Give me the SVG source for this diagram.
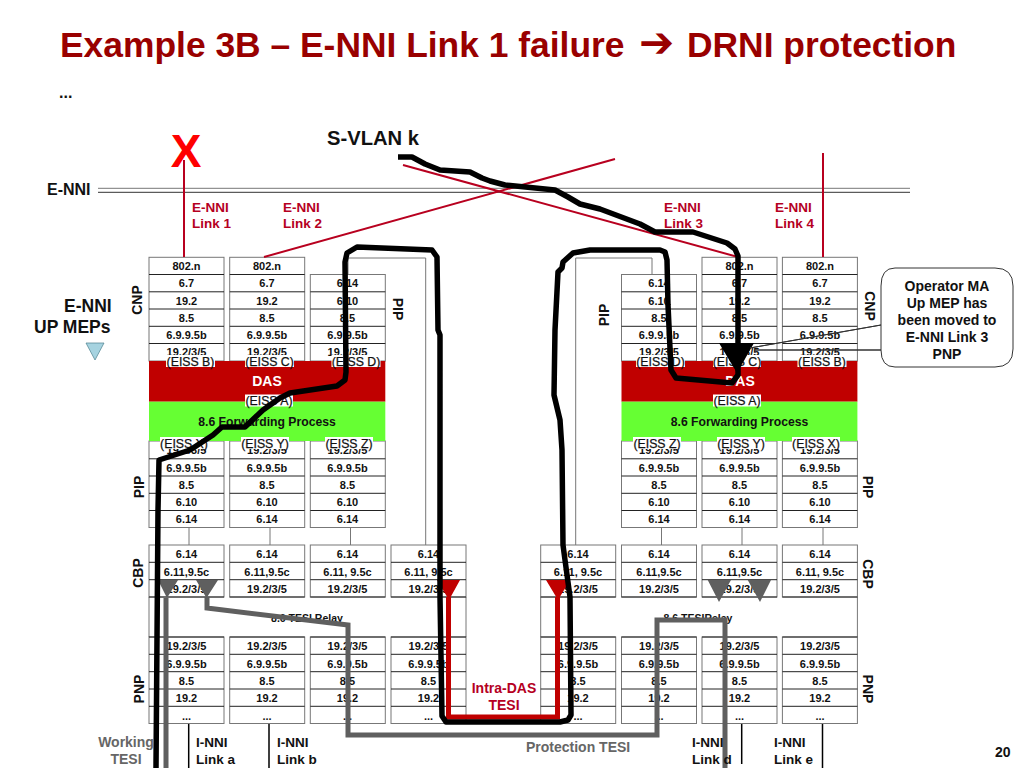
<svg xmlns="http://www.w3.org/2000/svg" width="1024" height="768" viewBox="0 0 1024 768">
<style>
text{font-family:"Liberation Sans",Arial,sans-serif;font-weight:bold}
.t{font-size:11px;text-anchor:middle;fill:#111}
.box{fill:#fff;stroke:#777;stroke-width:1}
.rl{fill:none;stroke:#222;stroke-width:1}
.e{font-size:12.3px;font-weight:normal;text-anchor:middle;fill:#111;stroke:#111;stroke-width:0.25}
.w{fill:#fff}
.s{font-size:14px;text-anchor:middle;fill:#111}
.n{font-size:13.5px;fill:#111}
.r{font-size:13.5px;fill:#b5001f}
.g{font-size:14px;fill:#666}
.rd{fill:none;stroke:#b8001f;stroke-width:2}
.thin{fill:none;stroke:#777;stroke-width:1}
.bk{fill:none;stroke:#000;stroke-width:5.5;stroke-linejoin:round;stroke-linecap:butt}
.gy{fill:none;stroke:#5f5f5f;stroke-width:5;stroke-linejoin:miter}
.il{fill:none;stroke:#000;stroke-width:1.5}
</style>
<rect width="1024" height="768" fill="#fff"/>
<g id="title">
<text x="60" y="57" style="font-size:35.4px;fill:#990000">Example 3B – E-NNI Link 1 failure<tspan x="639" style="font-family:'DejaVu Sans',sans-serif;font-size:42px">➔</tspan><tspan x="687">DRNI protection</tspan></text>
<text x="59" y="98" style="font-size:16px;fill:#111">...</text>
</g>
<g id="enni-bus"><path d="M98 188.3H910" fill="none" stroke="#777" stroke-width="1"/><path d="M98 192.3H910" fill="none" stroke="#333" stroke-width="1"/></g>

<g id="thin-links">
<path class="thin" d="M348 274V258H425.7V545"/>
<path class="thin" d="M652 274V258H575.7V545"/>
<path class="thin" d="M189 527.5V545M270 527.5V545M350.5 527.5V545M661.5 527.5V545M742 527.5V545M823 527.5V545"/>
</g>

<g id="left-cnp-1"><rect class="box" x="149" y="257.3" width="75" height="103.7"/><path class="rl" d="M149 274.5H224M149 291.8H224M149 309H224M149 326.3H224M149 343.5H224"/>
<text class="t" x="186.5" y="270">802.n</text><text class="t" x="186.5" y="287">6.7</text><text class="t" x="186.5" y="304.5">19.2</text><text class="t" x="186.5" y="322">8.5</text><text class="t" x="186.5" y="339">6.9.9.5b</text><text class="t" x="186.5" y="356">19.2/3/5</text></g>
<g id="left-cnp-2"><rect class="box" x="229.7" y="257.3" width="75" height="103.7"/><path class="rl" d="M229.7 274.5H304.7M229.7 291.8H304.7M229.7 309H304.7M229.7 326.3H304.7M229.7 343.5H304.7"/>
<text class="t" x="267" y="270">802.n</text><text class="t" x="267" y="287">6.7</text><text class="t" x="267" y="304.5">19.2</text><text class="t" x="267" y="322">8.5</text><text class="t" x="267" y="339">6.9.9.5b</text><text class="t" x="267" y="356">19.2/3/5</text></g>
<g id="left-cnp-3"><rect class="box" x="310.3" y="274.5" width="75" height="86.5"/><path class="rl" d="M310.3 291.8H385.3M310.3 309H385.3M310.3 326.3H385.3M310.3 343.5H385.3"/>
<text class="t" x="347.5" y="287">6.14</text><text class="t" x="347.5" y="304.5">6.10</text><text class="t" x="347.5" y="322">8.5</text><text class="t" x="347.5" y="339">6.9.9.5b</text><text class="t" x="347.5" y="356">19.2/3/5</text></g>

<g id="right-cnp-1"><rect class="box" x="621.5" y="274.5" width="75" height="86.5"/><path class="rl" d="M621.5 291.8H696.5M621.5 309H696.5M621.5 326.3H696.5M621.5 343.5H696.5"/>
<text class="t" x="659" y="287">6.14</text><text class="t" x="659" y="304.5">6.10</text><text class="t" x="659" y="322">8.5</text><text class="t" x="659" y="339">6.9.9.5b</text><text class="t" x="659" y="356">19.2/3/5</text></g>
<g id="right-cnp-2"><rect class="box" x="702" y="257.3" width="75" height="103.7"/><path class="rl" d="M702 274.5H777M702 291.8H777M702 309H777M702 326.3H777M702 343.5H777"/>
<text class="t" x="739.5" y="270">802.n</text><text class="t" x="739.5" y="287">6.7</text><text class="t" x="739.5" y="304.5">19.2</text><text class="t" x="739.5" y="322">8.5</text><text class="t" x="739.5" y="339">6.9.9.5b</text><text class="t" x="739.5" y="356">19.2/3/5</text></g>
<g id="right-cnp-3"><rect class="box" x="782.4" y="257.3" width="75" height="103.7"/><path class="rl" d="M782.4 274.5H857.4M782.4 291.8H857.4M782.4 309H857.4M782.4 326.3H857.4M782.4 343.5H857.4"/>
<text class="t" x="820" y="270">802.n</text><text class="t" x="820" y="287">6.7</text><text class="t" x="820" y="304.5">19.2</text><text class="t" x="820" y="322">8.5</text><text class="t" x="820" y="339">6.9.9.5b</text><text class="t" x="820" y="356">19.2/3/5</text></g>

<g id="left-pip-1"><rect class="box" x="149" y="441" width="75" height="86.5"/><path class="rl" d="M149 458.8H224M149 476H224M149 493.3H224M149 510.5H224"/>
<text class="t" x="186.5" y="454">19.2/3/5</text><text class="t" x="186.5" y="471.5">6.9.9.5b</text><text class="t" x="186.5" y="489">8.5</text><text class="t" x="186.5" y="506">6.10</text><text class="t" x="186.5" y="523">6.14</text></g>
<g id="left-pip-2"><rect class="box" x="229.7" y="441" width="75" height="86.5"/><path class="rl" d="M229.7 458.8H304.7M229.7 476H304.7M229.7 493.3H304.7M229.7 510.5H304.7"/>
<text class="t" x="267" y="454">19.2/3/5</text><text class="t" x="267" y="471.5">6.9.9.5b</text><text class="t" x="267" y="489">8.5</text><text class="t" x="267" y="506">6.10</text><text class="t" x="267" y="523">6.14</text></g>
<g id="left-pip-3"><rect class="box" x="310.3" y="441" width="75" height="86.5"/><path class="rl" d="M310.3 458.8H385.3M310.3 476H385.3M310.3 493.3H385.3M310.3 510.5H385.3"/>
<text class="t" x="347.5" y="454">19.2/3/5</text><text class="t" x="347.5" y="471.5">6.9.9.5b</text><text class="t" x="347.5" y="489">8.5</text><text class="t" x="347.5" y="506">6.10</text><text class="t" x="347.5" y="523">6.14</text></g>
<g id="right-pip-1"><rect class="box" x="621.5" y="441" width="75" height="86.5"/><path class="rl" d="M621.5 458.8H696.5M621.5 476H696.5M621.5 493.3H696.5M621.5 510.5H696.5"/>
<text class="t" x="659" y="454">19.2/3/5</text><text class="t" x="659" y="471.5">6.9.9.5b</text><text class="t" x="659" y="489">8.5</text><text class="t" x="659" y="506">6.10</text><text class="t" x="659" y="523">6.14</text></g>
<g id="right-pip-2"><rect class="box" x="702" y="441" width="75" height="86.5"/><path class="rl" d="M702 458.8H777M702 476H777M702 493.3H777M702 510.5H777"/>
<text class="t" x="739.5" y="454">19.2/3/5</text><text class="t" x="739.5" y="471.5">6.9.9.5b</text><text class="t" x="739.5" y="489">8.5</text><text class="t" x="739.5" y="506">6.10</text><text class="t" x="739.5" y="523">6.14</text></g>
<g id="right-pip-3"><rect class="box" x="782.4" y="441" width="75" height="86.5"/><path class="rl" d="M782.4 458.8H857.4M782.4 476H857.4M782.4 493.3H857.4M782.4 510.5H857.4"/>
<text class="t" x="820" y="454">19.2/3/5</text><text class="t" x="820" y="471.5">6.9.9.5b</text><text class="t" x="820" y="489">8.5</text><text class="t" x="820" y="506">6.10</text><text class="t" x="820" y="523">6.14</text></g>

<g id="left-relay"><path class="box" d="M149 597V637M466 597V637"/><text class="t" x="307" y="621.5" style="font-size:10.5px">8.6 TESI Relay</text></g>
<g id="right-relay"><path class="box" d="M540.7 597V637M857.4 597V637"/><text class="t" x="698" y="621.5" style="font-size:10.5px">8.6 TESIRelay</text></g>

<g id="left-cbp-1"><rect class="box" x="149" y="545" width="75" height="52"/><path class="rl" d="M149 562.3H224M149 579.7H224M149 597H224"/><text class="t" x="186.5" y="558">6.14</text><text class="t" x="186.5" y="575.5">6.11,9.5c</text><text class="t" x="186.5" y="593">19.2/3/5</text></g>
<g id="left-cbp-2"><rect class="box" x="229.7" y="545" width="75" height="52"/><path class="rl" d="M229.7 562.3H304.7M229.7 579.7H304.7M229.7 597H304.7"/><text class="t" x="267" y="558">6.14</text><text class="t" x="267" y="575.5">6.11,9.5c</text><text class="t" x="267" y="593">19.2/3/5</text></g>
<g id="left-cbp-3"><rect class="box" x="310.3" y="545" width="75" height="52"/><path class="rl" d="M310.3 562.3H385.3M310.3 579.7H385.3M310.3 597H385.3"/><text class="t" x="347.5" y="558">6.14</text><text class="t" x="347.5" y="575.5">6.11, 9.5c</text><text class="t" x="347.5" y="593">19.2/3/5</text></g>
<g id="left-cbp-4"><rect class="box" x="391" y="545" width="75" height="52"/><path class="rl" d="M391 562.3H466M391 579.7H466M391 597H466"/><text class="t" x="428.5" y="558">6.14</text><text class="t" x="428.5" y="575.5">6.11, 9.5c</text><text class="t" x="428.5" y="593">19.2/3/5</text></g>
<g id="right-cbp-1"><rect class="box" x="540.7" y="545" width="75" height="52"/><path class="rl" d="M540.7 562.3H615.7M540.7 579.7H615.7M540.7 597H615.7"/><text class="t" x="578" y="558">6.14</text><text class="t" x="578" y="575.5">6.11, 9.5c</text><text class="t" x="578" y="593">19.2/3/5</text></g>
<g id="right-cbp-2"><rect class="box" x="621.5" y="545" width="75" height="52"/><path class="rl" d="M621.5 562.3H696.5M621.5 579.7H696.5M621.5 597H696.5"/><text class="t" x="659" y="558">6.14</text><text class="t" x="659" y="575.5">6.11,9.5c</text><text class="t" x="659" y="593">19.2/3/5</text></g>
<g id="right-cbp-3"><rect class="box" x="702" y="545" width="75" height="52"/><path class="rl" d="M702 562.3H777M702 579.7H777M702 597H777"/><text class="t" x="739.5" y="558">6.14</text><text class="t" x="739.5" y="575.5">6.11,9.5c</text><text class="t" x="739.5" y="593">19.2/3/5</text></g>
<g id="right-cbp-4"><rect class="box" x="782.4" y="545" width="75" height="52"/><path class="rl" d="M782.4 562.3H857.4M782.4 579.7H857.4M782.4 597H857.4"/><text class="t" x="820" y="558">6.14</text><text class="t" x="820" y="575.5">6.11, 9.5c</text><text class="t" x="820" y="593">19.2/3/5</text></g>

<g id="left-pnp-1"><rect class="box" x="149" y="637" width="75" height="86.5"/><path class="rl" d="M149 637H224M149 654.3H224M149 671.7H224M149 689H224M149 706.3H224"/><text class="t" x="186.5" y="650">19.2/3/5</text><text class="t" x="186.5" y="667.5">6.9.9.5b</text><text class="t" x="186.5" y="685">8.5</text><text class="t" x="186.5" y="702">19.2</text><text class="t" x="186.5" y="720">...</text></g>
<g id="left-pnp-2"><rect class="box" x="229.7" y="637" width="75" height="86.5"/><path class="rl" d="M229.7 637H304.7M229.7 654.3H304.7M229.7 671.7H304.7M229.7 689H304.7M229.7 706.3H304.7"/><text class="t" x="267" y="650">19.2/3/5</text><text class="t" x="267" y="667.5">6.9.9.5b</text><text class="t" x="267" y="685">8.5</text><text class="t" x="267" y="702">19.2</text><text class="t" x="267" y="720">...</text></g>
<g id="left-pnp-3"><rect class="box" x="310.3" y="637" width="75" height="86.5"/><path class="rl" d="M310.3 637H385.3M310.3 654.3H385.3M310.3 671.7H385.3M310.3 689H385.3M310.3 706.3H385.3"/><text class="t" x="347.5" y="650">19.2/3/5</text><text class="t" x="347.5" y="667.5">6.9.9.5b</text><text class="t" x="347.5" y="685">8.5</text><text class="t" x="347.5" y="702">19.2</text><text class="t" x="347.5" y="720">...</text></g>
<g id="left-pnp-4"><rect class="box" x="391" y="637" width="75" height="86.5"/><path class="rl" d="M391 637H466M391 654.3H466M391 671.7H466M391 689H466M391 706.3H466"/><text class="t" x="428.5" y="650">19.2/3/5</text><text class="t" x="428.5" y="667.5">6.9.9.5b</text><text class="t" x="428.5" y="685">8.5</text><text class="t" x="428.5" y="702">19.2</text><text class="t" x="428.5" y="720">...</text></g>
<g id="right-pnp-1"><rect class="box" x="540.7" y="637" width="75" height="86.5"/><path class="rl" d="M540.7 637H615.7M540.7 654.3H615.7M540.7 671.7H615.7M540.7 689H615.7M540.7 706.3H615.7"/><text class="t" x="578" y="650">19.2/3/5</text><text class="t" x="578" y="667.5">6.9.9.5b</text><text class="t" x="578" y="685">8.5</text><text class="t" x="578" y="702">19.2</text><text class="t" x="578" y="720">...</text></g>
<g id="right-pnp-2"><rect class="box" x="621.5" y="637" width="75" height="86.5"/><path class="rl" d="M621.5 637H696.5M621.5 654.3H696.5M621.5 671.7H696.5M621.5 689H696.5M621.5 706.3H696.5"/><text class="t" x="659" y="650">19.2/3/5</text><text class="t" x="659" y="667.5">6.9.9.5b</text><text class="t" x="659" y="685">8.5</text><text class="t" x="659" y="702">19.2</text><text class="t" x="659" y="720">...</text></g>
<g id="right-pnp-3"><rect class="box" x="702" y="637" width="75" height="86.5"/><path class="rl" d="M702 637H777M702 654.3H777M702 671.7H777M702 689H777M702 706.3H777"/><text class="t" x="739.5" y="650">19.2/3/5</text><text class="t" x="739.5" y="667.5">6.9.9.5b</text><text class="t" x="739.5" y="685">8.5</text><text class="t" x="739.5" y="702">19.2</text><text class="t" x="739.5" y="720">...</text></g>
<g id="right-pnp-4"><rect class="box" x="782.4" y="637" width="75" height="86.5"/><path class="rl" d="M782.4 637H857.4M782.4 654.3H857.4M782.4 671.7H857.4M782.4 689H857.4M782.4 706.3H857.4"/><text class="t" x="820" y="650">19.2/3/5</text><text class="t" x="820" y="667.5">6.9.9.5b</text><text class="t" x="820" y="685">8.5</text><text class="t" x="820" y="702">19.2</text><text class="t" x="820" y="720">...</text></g>

<g id="left-das"><rect x="149" y="361" width="236.3" height="40.7" fill="#c00000"/><text x="267" y="386" style="font-size:14px;text-anchor:middle;fill:#fff">DAS</text></g>
<g id="left-forwarding"><rect x="149" y="401.7" width="236.3" height="39.3" fill="#66ff33"/><text class="t" x="267" y="426" style="font-size:12.2px">8.6 Forwarding Process</text></g>
<g id="right-das"><rect x="621.5" y="361" width="235.9" height="40.7" fill="#c00000"/><text x="740" y="386" style="font-size:14px;text-anchor:middle;fill:#fff">DAS</text></g>
<g id="right-forwarding"><rect x="621.5" y="401.7" width="235.9" height="39.3" fill="#66ff33"/><text class="t" x="739.5" y="426" style="font-size:12.2px">8.6 Forwarding Process</text></g>

<g id="eiss-labels">
<rect class="w" x="166" y="355" width="49" height="12"/><text class="e" x="190.5" y="365.5">(EISS B)</text>
<rect class="w" x="245" y="355" width="49" height="12"/><text class="e" x="269.5" y="365.5">(EISS C)</text>
<rect class="w" x="331.5" y="355" width="49" height="12"/><text class="e" x="356" y="365.5">(EISS D)</text>
<rect class="w" x="245" y="394.5" width="48" height="12"/><text class="e" x="269" y="405">(EISS A)</text>
<rect class="w" x="160" y="437" width="48" height="12"/><text class="e" x="184" y="447.5">(EISS X)</text>
<rect class="w" x="241" y="437" width="48" height="12"/><text class="e" x="265" y="447.5">(EISS Y)</text>
<rect class="w" x="325" y="437" width="48" height="12"/><text class="e" x="349" y="447.5">(EISS Z)</text>
<rect class="w" x="636" y="355" width="49" height="12"/><text class="e" x="660.5" y="365.5">(EISS D)</text>
<rect class="w" x="713" y="355" width="48" height="12"/><text class="e" x="737" y="365.5">(EISS C)</text>
<rect class="w" x="797.5" y="355" width="49" height="12"/><text class="e" x="822" y="365.5">(EISS B)</text>
<rect class="w" x="713" y="394.5" width="48" height="12"/><text class="e" x="737" y="405">(EISS A)</text>
<rect class="w" x="633" y="437" width="48" height="12"/><text class="e" x="657" y="447.5">(EISS Z)</text>
<rect class="w" x="717" y="437" width="48" height="12"/><text class="e" x="741" y="447.5">(EISS Y)</text>
<rect class="w" x="792" y="437" width="48" height="12"/><text class="e" x="816" y="447.5">(EISS X)</text>
</g>

<g id="side-labels">
<text class="s" transform="translate(142 300) rotate(-90)">CNP</text>
<text class="s" transform="translate(865 306) rotate(90)">CNP</text>
<text class="s" transform="translate(393 309) rotate(90)">PIP</text>
<text class="s" transform="translate(609 315) rotate(-90)">PIP</text>
<text class="s" transform="translate(144 487) rotate(-90)">PIP</text>
<text class="s" transform="translate(863 487) rotate(90)">PIP</text>
<text class="s" transform="translate(143 573) rotate(-90)">CBP</text>
<text class="s" transform="translate(863 574) rotate(90)">CBP</text>
<text class="s" transform="translate(144 689) rotate(-90)">PNP</text>
<text class="s" transform="translate(863 689) rotate(90)">PNP</text>
</g>

<g id="connectors">
<path class="rd" d="M184 160V257M264 257L615 159M403 165L738 257M823 153V257"/>
<path class="il" d="M188.7 724V768M269 724V768M741.7 724V764M822.5 724V768"/>
<path d="M158 580H178L167 598ZM196 580H218L206.5 598Z" fill="#5f5f5f"/>
<path d="M707.7 580H731L719 602ZM747.7 580H771L760 602Z" fill="#5f5f5f"/>
<path class="gy" d="M166 598V768"/>
<path class="gy" d="M207 597V608L348 625V735H657V620H725V768"/>
<path d="M437 580H460L449 600ZM546 580H570L558 600Z" fill="#c00000"/>
<path d="M448.5 597V717H557.5V597" fill="none" stroke="#c00000" stroke-width="5"/>
<path class="bk" d="M398 157H412L425 164L440 170L470 172L482 178L490 181L505 185L555 190L568 197L580 204L600 209L640 224L655 232H693L727 243L735 249L738 256V375L732 383L676 378L671 370L668 305L667 260L665 252L660 250H590L573 253L563 262L562 268L558 272L555 330L554 395L560 420L562 450L563 545L565 560L570 597L571 715L568 720L560 722H446L442 716L440 597V335L438 330L437 257L432 250L357 247L347 253L345 262L346 372L345 380L337 386L290 393L280 398L263 410L245 427H222L213 435L190 450L159 460L158 510L156 768"/>
<path d="M719 343H754L737 373Z" fill="#000"/>
</g>

<g id="callout">
<path d="M895 268H995Q1013 268 1013 286V349Q1013 367 995 367H895Q881 367 881 350L755 350L881 350L881 325L750 348L881 325V286Q881 268 895 268Z" fill="#fff" stroke="#333" stroke-width="1"/>
<text text-anchor="middle" style="font-size:14px;fill:#111"><tspan x="947" y="291">Operator MA</tspan><tspan x="947" y="308">Up MEP has</tspan><tspan x="947" y="325">been moved to</tspan><tspan x="947" y="342">E-NNI Link 3</tspan><tspan x="947" y="359">PNP</tspan></text>
</g>

<g id="mep-legend">
<text x="47" y="195" style="font-size:16px;fill:#111">E-NNI</text>
<text x="64" y="312" style="font-size:17.5px;fill:#111">E-NNI</text>
<text x="34" y="333" style="font-size:17.5px;fill:#111">UP MEPs</text>
<path d="M86 343H104L95 360Z" fill="#a6d3e0" stroke="#4b7f8c" stroke-width="0.7"/>
</g>

<g id="labels">
<text x="186" y="167" text-anchor="middle" style="font-size:46px;fill:#f00">X</text>
<text x="327" y="145" style="font-size:20.2px;fill:#111">S-VLAN k</text>
<text class="r" x="192" y="212">E-NNI</text><text class="r" x="192" y="228">Link 1</text>
<text class="r" x="283" y="212">E-NNI</text><text class="r" x="283" y="228">Link 2</text>
<text class="r" x="664" y="212">E-NNI</text><text class="r" x="664" y="228">Link 3</text>
<text class="r" x="775" y="212">E-NNI</text><text class="r" x="775" y="228">Link 4</text>
<text class="g" x="126" y="747" text-anchor="middle">Working</text><text class="g" x="126" y="764" text-anchor="middle">TESI</text>
<text class="n" x="196" y="747">I-NNI</text><text class="n" x="196" y="764">Link a</text>
<text class="n" x="277" y="747">I-NNI</text><text class="n" x="277" y="764">Link b</text>
<text class="n" x="692" y="747">I-NNI</text><text class="n" x="692" y="764">Link d</text>
<text class="n" x="774" y="747">I-NNI</text><text class="n" x="774" y="764">Link e</text>
<text class="g" x="526" y="752">Protection TESI</text>
<text class="r" x="504" y="693" text-anchor="middle" style="font-size:14px">Intra-DAS</text><text class="r" x="504" y="710" text-anchor="middle" style="font-size:14px">TESI</text>
<text x="995" y="757" style="font-size:14px;fill:#111">20</text>
</g>
</svg>
